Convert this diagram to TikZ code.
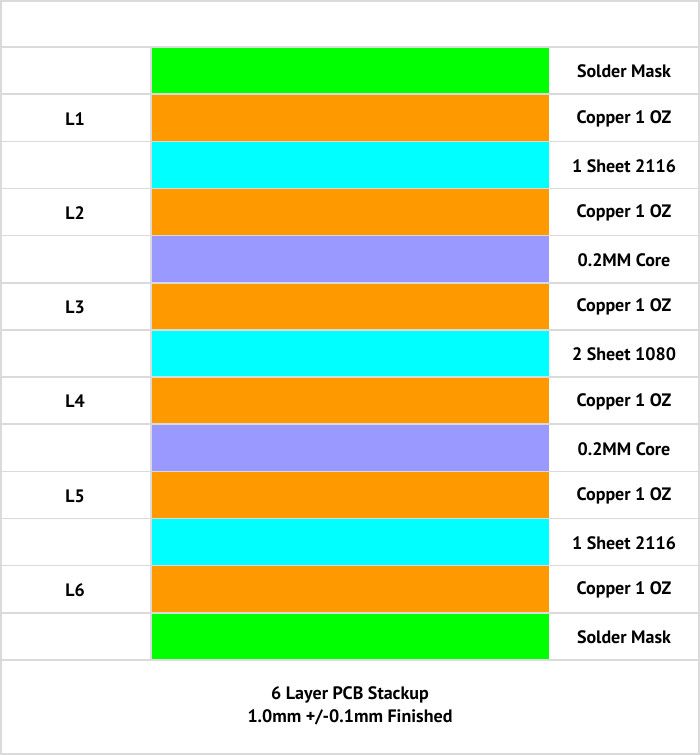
\documentclass[tikz,border=0pt]{standalone}
\usepackage{fontspec}
\setmainfont{PT Sans}
\definecolor{mask}{RGB}{0,255,0}
\definecolor{copper}{RGB}{255,153,0}
\definecolor{prepreg}{RGB}{0,255,255}
\definecolor{core}{RGB}{153,153,255}
\definecolor{grid}{RGB}{218,218,218}
\begin{document}
\begin{tikzpicture}[x=1pt,y=-1pt,
  lbl/.style={font=\bfseries\fontsize{18}{22}\selectfont, text=black, inner sep=0pt},
  layer/.style={draw=none}]
\useasboundingbox (0,0) rectangle (700,755);
\fill[white] (0,0) rectangle (700,755);
% grid lines
\foreach \i in {0,...,13} {
  \draw[grid, line width=1.5pt] (0,{47+\i*47.15}) -- (700,{47+\i*47.15});
}
\draw[grid, line width=1.5pt] (151,47) -- (151,660);
\draw[grid, line width=2pt] (0.75,0.75) rectangle (699.25,754.25);
% layers
\foreach \i/\c/\t/\l in {0/mask/Solder Mask/,1/copper/Copper 1 OZ/L1,2/prepreg/1 Sheet 2116/,3/copper/Copper 1 OZ/L2,4/core/0.2MM Core/,5/copper/Copper 1 OZ/L3,6/prepreg/2 Sheet 1080/,7/copper/Copper 1 OZ/L4,8/core/0.2MM Core/,9/copper/Copper 1 OZ/L5,10/prepreg/1 Sheet 2116/,11/copper/Copper 1 OZ/L6,12/mask/Solder Mask/} {
  \fill[\c] (151.5,{47+\i*47.15+0.75}) rectangle (549,{47+(\i+1)*47.15-0.75});
  \node[lbl] (name\i) at (624,{47+(\i+0.5)*47.15+1}) {\t};
  \node[lbl] (lay\i) at (75,{47+(\i+0.5)*47.15+1}) {\l};
}
\node[lbl, align=center, font=\bfseries\fontsize{18}{23}\selectfont] (title) at (350,706) {6 Layer PCB Stackup\\1.0mm +/-0.1mm Finished};
\end{tikzpicture}
\end{document}
